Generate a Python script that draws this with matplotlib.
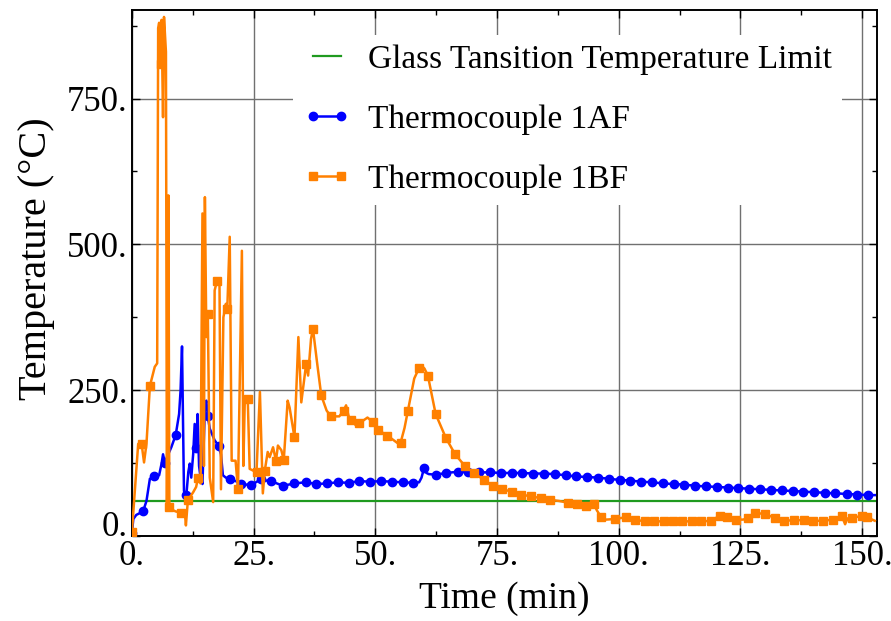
import matplotlib
matplotlib.use("Agg")
import matplotlib.pyplot as plt
from matplotlib.lines import Line2D
import numpy as np

# ---------------------------------------------------------------
#   datos (tiempo en min, temperatura en C)
# ---------------------------------------------------------------
limite_vidrio = 60

t_1af = [0, 0.3, 0.9, 2.3, 3.0, 3.7, 4.6, 5.6, 6.1, 6.4,
         6.8, 7.2, 8.1, 9.0, 9.7, 10.0, 10.3, 10.5, 10.7, 11.0,
         11.2, 11.6, 11.9, 12.2, 12.6, 12.9, 13.2, 13.5, 13.8, 14.1,
         14.5, 15.0, 15.3, 15.6, 16.0, 17.0, 17.8, 18.3, 18.7, 19.3,
         20.1, 21.6, 22.5, 23.5, 24.5, 25.5, 26.6, 27.5, 28.6, 29.8,
         31.0, 33.4, 35.7, 37.9, 40.1, 42.3, 44.5, 46.7, 49.0, 51.2,
         53.4, 55.6, 57.8, 59.0, 59.5, 60.0, 60.5, 61.0, 62.4, 64.6,
         66.9, 69.1, 71.3, 73.5, 75.8, 78.0, 80.2, 82.4, 84.6, 86.9,
         89.1, 91.3, 93.5, 95.8, 98.0, 100.2, 102.4, 104.6, 106.9, 109.1,
         111.3, 113.5, 115.7, 117.9, 120.2, 122.4, 124.6, 126.8, 129.0, 131.2,
         133.5, 135.7, 137.9, 140.1, 142.3, 144.5, 146.8, 149.0, 151.2, 152.6]
temp_1af = [5, 29, 36, 42, 60, 98, 102, 104, 124, 140,
            125, 135, 152, 173, 209, 249, 325, 200, 78, 61,
            71, 110, 124, 100, 141, 192, 150, 209, 120, 101,
            89, 221, 232, 205, 184, 164, 155, 140, 104, 100,
            98, 93, 89, 88, 88, 92, 98, 95, 94, 90,
            86, 90, 92, 89, 90, 92, 91, 94, 93, 94,
            93, 92, 91, 92, 100, 116, 108, 106, 105, 108,
            110, 109, 109, 109, 108, 108, 108, 107, 107, 106,
            104, 102, 101, 100, 98, 96, 95, 93, 92, 90,
            89, 88, 86, 85, 84, 83, 82, 81, 80, 79,
            78, 77, 76, 75, 74, 73, 72, 71, 70, 70]

t_1bf = [0, 1.3, 2.0, 2.5, 3.0, 3.7, 4.7, 5.2, 5.4, 5.6,
         5.9, 6.1, 6.4, 6.6, 7.0, 7.2, 7.5, 7.7, 8.2, 9.0,
         10.0, 10.9, 11.1, 11.5, 12.6, 13.2, 13.6, 14.1, 14.5, 14.8,
         15.0, 15.3, 15.6, 16.0, 16.7, 17.0, 17.5, 18.0, 18.3, 18.8,
         19.3, 19.6, 20.1, 20.5, 21.3, 21.8, 22.6, 22.9, 23.2, 23.8,
         24.2, 24.9, 25.6, 26.3, 26.9, 27.3, 27.9, 28.3, 29.0, 29.6,
         30.0, 30.7, 31.2, 32.0, 32.4, 33.4, 34.2, 34.8, 35.8, 36.2,
         36.8, 37.2, 38.0, 38.9, 40.0, 40.9, 42.6, 43.5, 44.0, 44.5,
         45.0, 46.0, 46.7, 48.4, 49.5, 50.5, 52.5, 54.6, 55.2, 56.0,
         56.7, 58.0, 59.0, 59.5, 60.1, 60.8, 62.4, 64.5, 66.4, 68.4,
         70.3, 72.3, 74.2, 76.1, 78.0, 79.9, 81.9, 84.0, 85.8, 87.7,
         89.6, 91.5, 93.2, 94.0, 94.9, 95.5, 96.4, 97.4, 99.3, 101.4,
         103.3, 105.3, 107.2, 109.2, 111.2, 113.1, 115.1, 117.0, 119.0, 120.8,
         121.5, 122.3, 123.0, 124.0, 125.5, 126.5, 128.0, 130.0, 132.0, 134.0,
         136.0, 138.0, 140.0, 142.0, 144.0, 145.8, 146.5, 147.0, 148.0, 149.9,
         151.0, 152.6]
temp_1bf = [6, 158, 158, 126, 158, 257, 290, 296, 871, 880,
            810, 885, 718, 890, 830, 50, 584, 49, 45, 42,
            40, 38, 18, 61, 75, 84, 100, 90, 553, 120,
            581, 341, 381, 100, 58, 421, 438, 430, 80, 375,
            398, 390, 513, 129, 129, 80, 489, 120, 235, 235,
            115, 112, 110, 247, 73, 112, 144, 135, 152, 129,
            155, 147, 130, 232, 220, 169, 341, 229, 295, 275,
            338, 355, 300, 241, 215, 205, 205, 215, 224, 206,
            198, 190, 193, 203, 195, 182, 172, 159, 160, 185,
            215, 270, 288, 292, 287, 275, 209, 168, 140, 120,
            108, 96, 86, 80, 76, 71, 68, 65, 62, 60,
            57, 55, 52, 56, 55, 44, 32, 28, 29, 32,
            28, 25, 25, 25, 25, 25, 25, 25, 26, 35,
            30, 33, 29, 28, 28, 30, 39, 38, 31, 26,
            27, 27, 26, 26, 28, 35, 20, 30, 30, 35,
            32, 26]

x_ticks = [0, 25, 50, 75, 100, 125, 150]
y_ticks = [0, 250, 500, 750]


def marcas(t, paso):
    # indices de los puntos mas cercanos a una malla regular en t
    t = np.asarray(t)
    malla = np.arange(t[0], t[-1] + 0.01, paso)
    return sorted(set(int(np.argmin(np.abs(t - m))) for m in malla))


plt.rcParams["font.family"] = ["Liberation Serif", "DejaVu Serif"]

fig = plt.figure(figsize=(8.91, 6.21), dpi=100)
ax = fig.add_axes([0.148, 0.137, 0.836, 0.847])

verde = "#1f9a1f"
ax.axhline(limite_vidrio, color=verde, lw=1.6, zorder=2)
l1, = ax.plot(t_1af, temp_1af, color="#0000ff", lw=1.8, marker="o", ms=6,
              markevery=marcas(t_1af, 2.22), zorder=3)
l2, = ax.plot(t_1bf, temp_1bf, color="#ff8000", lw=1.8, marker="s", ms=6,
              markevery=marcas(t_1bf, 1.97), zorder=3)

ax.set_xlim(0, 153)
ax.set_ylim(0, 902)
ax.set_xticks(x_ticks)
ax.set_yticks(y_ticks)
ax.set_xticks(np.arange(12.5, 153, 25), minor=True)
ax.set_yticks(np.arange(125, 902, 250), minor=True)
ax.set_xticklabels([f"{v}." for v in x_ticks])
ax.set_yticklabels([f"{v}." for v in y_ticks])
ax.get_yticklabels()[0].set_verticalalignment("baseline")
ax.grid(True, which="major", color="#707070", lw=1.0)
ax.tick_params(which="both", direction="in", top=True, right=True,
               labelsize=25, pad=3, width=1.0)
ax.tick_params(which="major", length=6)
ax.tick_params(which="minor", length=3.5)
for s in ax.spines.values():
    s.set_linewidth(1.4)

ax.set_xlabel("Time (min)", fontsize=27, labelpad=6)
ax.set_ylabel("Temperature (°C)", fontsize=29)
ax.yaxis.set_label_coords(-0.103, 0.528)

manijas = [Line2D([], [], color=verde, lw=1.6), l1, l2]
nombres = ["Glass Tansition Temperature Limit", "Thermocouple 1AF",
           "Thermocouple 1BF"]
leg = ax.legend(manijas, nombres, loc="upper left",
                bbox_to_anchor=(0.216, 0.953), fontsize=24,
                frameon=True, fancybox=False, framealpha=1.0,
                edgecolor="none", facecolor="white", numpoints=2,
                handlelength=1.45, handletextpad=0.5, labelspacing=0.88,
                borderpad=0.3, borderaxespad=0.0)
leg.set_zorder(5)

fig.savefig("out.png", dpi=100)
